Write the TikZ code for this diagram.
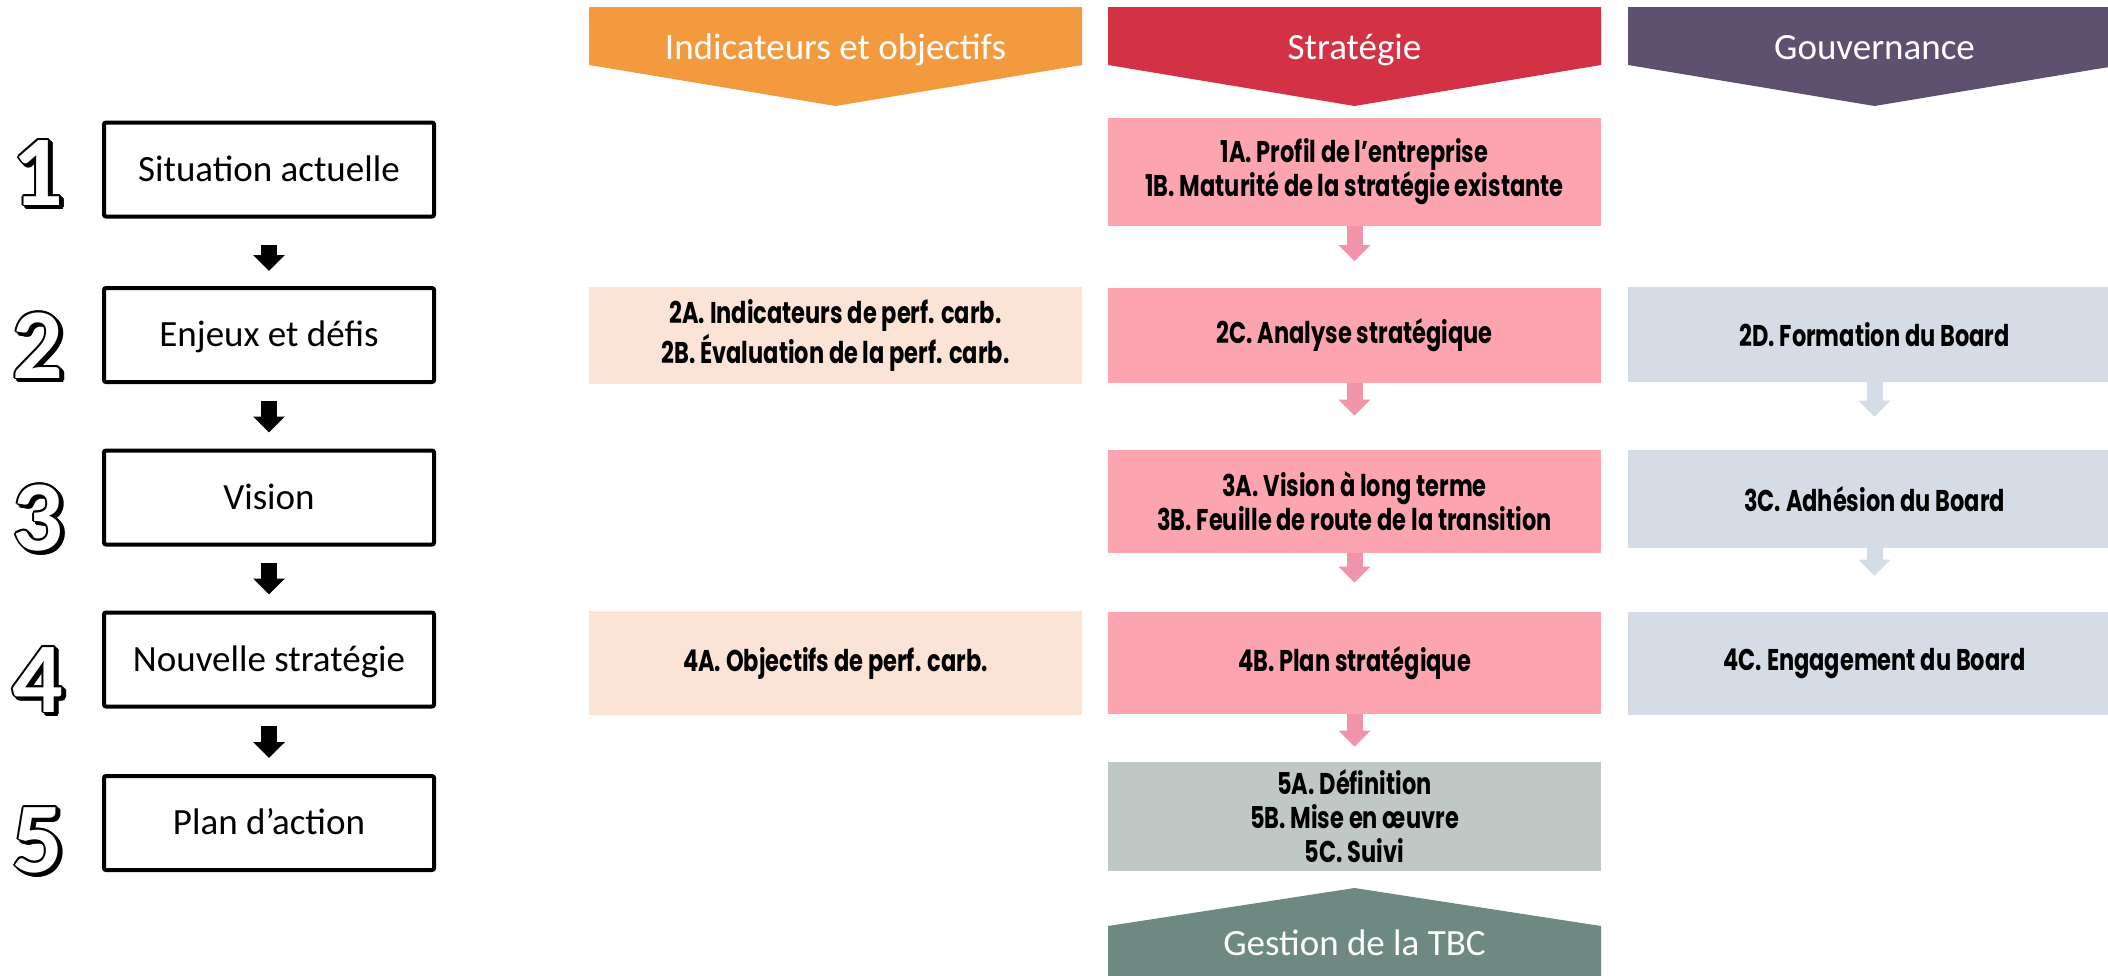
\documentclass[tikz,border=0pt]{standalone}
\usepackage{fontspec}
\setmainfont{Carlito}
\newfontfamily\boxfont{Poppins}[FakeStretch=0.75]
\usepackage{tikz}
\usetikzlibrary{positioning, calc, arrows.meta}

\definecolor{hdrorange}{HTML}{F39A3F}
\definecolor{hdrred}{HTML}{D33144}
\definecolor{hdrpurple}{HTML}{5E5170}
\definecolor{hdrgreen}{HTML}{6E8981}
\definecolor{peachbox}{HTML}{FBE4D6}
\definecolor{pinkbox}{HTML}{FCA5B0}
\definecolor{greybox}{HTML}{D6DCE5}
\definecolor{sagebox}{HTML}{BFC8C5}
\definecolor{pinkarrow}{HTML}{F095A9}

\tikzset{
  stepbox/.style={draw, line width=2pt, rounded corners=1pt, minimum width=165pt,
    minimum height=47pt, inner sep=0pt, font=\fontsize{18.5}{22}\selectfont,
    text height=11.9pt, text depth=0pt},
  phase/.style={minimum width=246.5pt, inner sep=0pt, align=center,
    font=\boxfont\bfseries\fontsize{15}{17}\selectfont},
  hdr/.style={text=white, inner sep=0pt, font=\fontsize{18.5}{22}\selectfont,
    text height=11.9pt, text depth=0pt},
  bigdigit/.style={inner sep=0pt, font=\bfseries\fontsize{50}{50}\selectfont,
    text height=32pt, text depth=0pt},
  blockarr/.style={line width=8pt, -{Triangle[width=15.5pt, length=8pt]}},
}

% white digit, black rim and shadow
\newcommand{\outlinedigit}[3]{%
  \foreach \angl in {0,30,...,330}{%
    \node[bigdigit, text=black] at ($(38,#2)+(1.3pt,-1.3pt)+(\angl:0.9pt)$) {#3};
    \node[bigdigit, text=black] at ($(38,#2)+(\angl:0.9pt)$) {#3};
  }
  \node[bigdigit, text=white] (#1) at (38,#2) {#3};
}

\begin{document}
\begin{tikzpicture}[x=0.5pt, y=-0.5pt]
\path[use as bounding box, clip] (0,0) rectangle (2108,975);

% headers
\fill[hdrorange] (589,7) -- (1082,7) -- (1082,65) -- (835.5,106) -- (589,65) -- cycle;
\fill[hdrred] (1108,7) -- (1601,7) -- (1601,65) -- (1354.5,106) -- (1108,65) -- cycle;
\fill[hdrpurple] (1628,7) -- (2121,7) -- (2121,65) -- (1874.5,106) -- (1628,65) -- cycle;
\node[hdr] (hdrind) at (835.5,48) {Indicateurs et objectifs};
\node[hdr] (hdrstrat) at (1354.5,48) {Stratégie};
\node[hdr] (hdrgouv) at (1874.5,48) {Gouvernance};

% steps
\outlinedigit{n1}{173}{1}
\outlinedigit{n2}{346}{2}
\outlinedigit{n3}{518}{3}
\outlinedigit{n4}{680}{4}
\outlinedigit{n5}{840}{5}
\node[stepbox] (sit) at (269,169.5) {Situation actuelle};
\node[stepbox] (enj) at (269,335) {Enjeux et défis};
\node[stepbox] (vis) at (269,497.5) {Vision};
\node[stepbox] (nouv) at (269,659.5) {Nouvelle stratégie};
\node[stepbox] (plan) at (269,823) {Plan d’action};

% indicateurs
\node[phase, fill=peachbox, minimum height=48.5pt] (i2) at (835.5,335.5)
  {2A. Indicateurs de perf. carb.\\2B. Évaluation de la perf. carb.};
\node[phase, fill=peachbox, minimum height=52pt] (i4) at (835.5,663)
  {4A. Objectifs de perf. carb.};

% strategie
\node[phase, fill=pinkbox, minimum height=54pt] (s1) at (1354.5,172)
  {1A. Profil de l’entreprise\\1B. Maturité de la stratégie existante};
\node[phase, fill=pinkbox, minimum height=47.5pt] (s2) at (1354.5,335)
  {2C. Analyse stratégique};
\node[phase, fill=pinkbox, minimum height=51.5pt] (s3) at (1354.5,501.5)
  {3A. Vision à long terme\\3B. Feuille de route de la transition};
\node[phase, fill=pinkbox, minimum height=51pt] (s4) at (1354.5,663)
  {4B. Plan stratégique};
\node[phase, fill=sagebox, minimum height=54.5pt] (s5) at (1354.5,816.5)
  {5A. Définition\\5B. Mise en œuvre\\5C. Suivi};

% gouvernance
\node[phase, fill=greybox, minimum height=47.5pt] (g2) at (1874.5,334.5)
  {2D. Formation du Board};
\node[phase, fill=greybox, minimum height=49pt] (g3) at (1874.5,499)
  {3C. Adhésion du Board};
\node[phase, fill=greybox, minimum height=51.5pt] (g4) at (1874.5,663.5)
  {4C. Engagement du Board};

% gestion
\fill[hdrgreen] (1108,926) -- (1354.5,888) -- (1601,926) -- (1601,980) -- (1108,980) -- cycle;
\node[hdr] (hdrtbc) at (1354.5,943.5) {Gestion de la TBC};

% arrows
\draw[blockarr, black, shorten <=13pt, shorten >=7.5pt] (sit) -- (enj);
\draw[blockarr, black, shorten <=8.5pt, shorten >=8pt] (enj) -- (vis);
\draw[blockarr, black, shorten <=8pt, shorten >=8pt] (vis) -- (nouv);
\draw[blockarr, black, shorten <=8.5pt, shorten >=8pt] (nouv) -- (plan);
\draw[blockarr, pinkarrow, shorten >=13pt] (s1) -- (s2);
\draw[blockarr, pinkarrow, shorten >=17pt] (s2) -- (s3);
\draw[blockarr, pinkarrow, shorten >=14.5pt] (s3) -- (s4);
\draw[blockarr, pinkarrow, shorten >=7.5pt] (s4) -- (s5);
\draw[blockarr, greybox, shorten >=16.5pt] (g2) -- (g3);
\draw[blockarr, greybox, shorten >=18pt] (g3) -- (g4);
\end{tikzpicture}
\end{document}
